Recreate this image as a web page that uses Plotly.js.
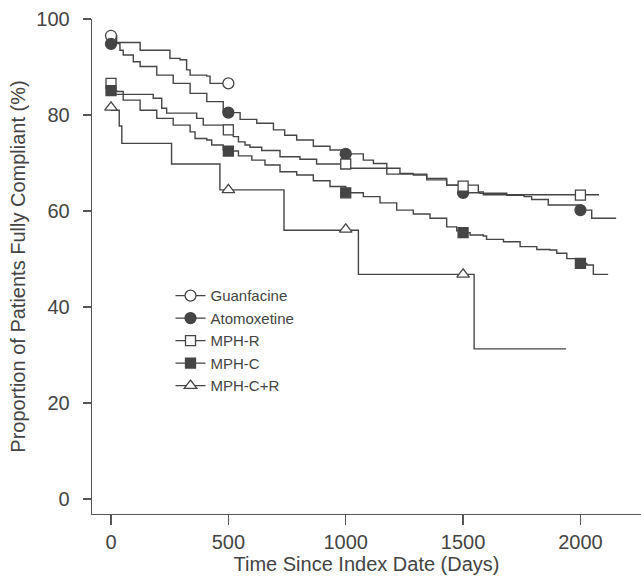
<!DOCTYPE html>
<html>
<head>
<meta charset="utf-8">
<script src="https://cdn.plot.ly/plotly-3.0.1.min.js"></script>
<style>html,body{margin:0;padding:0;background:#fff;}#chart{width:641px;height:579px;}</style>
</head>
<body>
<div id="chart"></div>
<script>
// ---- Data (days, % fully compliant) ----
const guanDays = [0, 24, 124, 251, 294, 322, 337, 408, 422, 500];
const guanVals = [96.5, 95.1, 93.5, 91.8, 91.5, 89.4, 88.3, 88.1, 86.6, 86.6];

const atoDays = [0, 24, 38, 52, 95, 124, 195, 265, 337, 408, 478, 500, 550, 621, 692, 740, 791, 862, 933, 1000, 1075, 1118, 1175, 1231, 1288, 1345, 1430, 1500, 1572, 1686, 1760, 1792, 1863, 1990, 2048, 2152];
const atoVals = [95.0, 94.9, 93.5, 92.5, 91.1, 90.1, 88.3, 86.6, 84.5, 82.8, 80.7, 80.5, 79.1, 78.3, 76.9, 75.8, 74.8, 73.5, 72.7, 71.9, 70.6, 69.9, 68.9, 67.85, 67.5, 66.8, 65.4, 63.8, 63.7, 63.3, 63.0, 62.4, 61.25, 60.2, 58.5, 58.5];

const mphrDays = [0, 15, 180, 216, 237, 365, 393, 521, 543, 571, 592, 642, 720, 805, 876, 1010, 1175, 1345, 1430, 1565, 1586, 2079];
const mphrVals = [86.6, 84.3, 83.5, 81.4, 80.4, 79.3, 77.9, 75.5, 74.4, 73.75, 73.3, 72.6, 71.3, 70.8, 69.8, 68.9, 67.7, 66.5, 65.4, 64.0, 63.4, 63.4];

const mphcDays = [0, 24, 52, 124, 195, 265, 337, 358, 408, 429, 478, 500, 543, 600, 656, 720, 791, 862, 933, 1000, 1075, 1146, 1217, 1288, 1359, 1430, 1473, 1500, 1530, 1586, 1600, 1672, 1743, 1814, 1870, 1899, 1942, 2000, 2027, 2055, 2118];
const mphcVals = [85.1, 84.9, 83.1, 81.0, 79.3, 77.9, 76.5, 75.1, 74.8, 73.75, 72.7, 72.5, 71.5, 70.6, 69.6, 68.2, 67.5, 66.3, 65.1, 63.8, 63.0, 61.7, 60.2, 59.4, 58.5, 56.7, 55.9, 55.5, 55.0, 54.8, 54.1, 53.6, 52.6, 52.0, 51.9, 51.2, 50.1, 49.1, 48.75, 46.8, 46.8];

const mphcrDays = [0, 35, 46, 258, 464, 737, 1054, 1547, 1939];
const mphcrVals = [81.0, 77.7, 74.1, 69.8, 64.4, 56.0, 46.8, 31.3, 31.3];

// Marker positions (symbols shown every 500 days)
const guanMarkDays = [0, 500];
const guanMarkVals = [96.5, 86.6];
const atoMarkDays = [0, 500, 1000, 1500, 2000];
const atoMarkVals = [94.8, 80.5, 71.9, 63.8, 60.2];
const mphrMarkDays = [0, 500, 1000, 1500, 2000];
const mphrMarkVals = [86.6, 76.9, 69.8, 65.2, 63.3];
const mphcMarkDays = [0, 500, 1000, 1500, 2000];
const mphcMarkVals = [85.1, 72.5, 63.8, 55.5, 49.1];
const mphcrMarkDays = [0, 500, 1000, 1500];
const mphcrMarkVals = [81.6, 64.4, 56.2, 46.8];

const seriesNames = ['Guanfacine', 'Atomoxetine', 'MPH-R', 'MPH-C', 'MPH-C+R'];

// ---- Styling ----
const ink = '#444444';
const lineCol = '#454545';
const fontFam = 'Liberation Sans, Arial, Helvetica, sans-serif';

const series = [
  {name: seriesNames[0], x: guanDays, y: guanVals, mx: guanMarkDays, my: guanMarkVals, symbol: 'circle', fill: '#ffffff', size: 11},
  {name: seriesNames[1], x: atoDays, y: atoVals, mx: atoMarkDays, my: atoMarkVals, symbol: 'circle', fill: lineCol, size: 11},
  {name: seriesNames[2], x: mphrDays, y: mphrVals, mx: mphrMarkDays, my: mphrMarkVals, symbol: 'square', fill: '#ffffff', size: 10},
  {name: seriesNames[3], x: mphcDays, y: mphcVals, mx: mphcMarkDays, my: mphcMarkVals, symbol: 'square', fill: lineCol, size: 10},
  {name: seriesNames[4], x: mphcrDays, y: mphcrVals, mx: mphcrMarkDays, my: mphcrMarkVals, symbol: 'triangle-up', fill: '#ffffff', size: 11}
];

// separate isolated marker points with nulls so no connecting line is drawn
function spread(arr) {
  const out = [];
  arr.forEach((v, i) => { if (i > 0) out.push(null); out.push(v); });
  return out;
}

const traces = [];
series.forEach(s => {
  traces.push({
    type: 'scatter', mode: 'lines', x: s.x, y: s.y,
    line: {shape: 'hv', color: lineCol, width: 1.4},
    showlegend: false, hoverinfo: 'skip'
  });
});
series.forEach(s => {
  traces.push({
    type: 'scatter', mode: 'lines+markers', name: s.name,
    x: spread(s.mx), y: spread(s.my), connectgaps: false,
    line: {color: lineCol, width: 1.4},
    marker: {symbol: s.symbol, size: s.size, color: s.fill, line: {color: lineCol, width: 1.3}},
    showlegend: true
  });
});

const layout = {
  width: 641, height: 579,
  margin: {l: 92, r: 0, t: 19, b: 65, pad: 0},
  paper_bgcolor: '#ffffff', plot_bgcolor: '#ffffff',
  font: {family: fontFam, color: ink, size: 20},
  showlegend: true,
  legend: {
    x: 0.143, y: 0.474, xanchor: 'left', yanchor: 'top',
    font: {family: fontFam, size: 15, color: ink},
    bgcolor: 'rgba(0,0,0,0)', borderwidth: 0, tracegroupgap: 0
  },
  xaxis: {
    range: [-81, 2258], tick0: 0, dtick: 500,
    showgrid: false, zeroline: false,
    showline: true, linecolor: '#555555', linewidth: 1.3,
    ticks: 'outside', ticklen: 10, tickwidth: 1.3, tickcolor: '#555555',
    tickfont: {family: fontFam, size: 20, color: ink},
    title: {text: 'Time Since Index Date (Days)', font: {family: fontFam, size: 20, color: ink}, standoff: 3}
  },
  yaxis: {
    range: [-3.1, 100], tick0: 0, dtick: 20,
    showgrid: false, zeroline: false,
    showline: true, linecolor: '#555555', linewidth: 1.3,
    ticks: 'outside', ticklen: 8, tickwidth: 1.3, tickcolor: '#555555',
    ticklabelstandoff: 9,
    tickfont: {family: fontFam, size: 20, color: ink},
    title: {text: 'Proportion of Patients Fully Compliant (%)', font: {family: fontFam, size: 20, color: ink}, standoff: 5}
  }
};

Plotly.newPlot('chart', traces, layout, {displayModeBar: false, staticPlot: true});
</script>
</body>
</html>
